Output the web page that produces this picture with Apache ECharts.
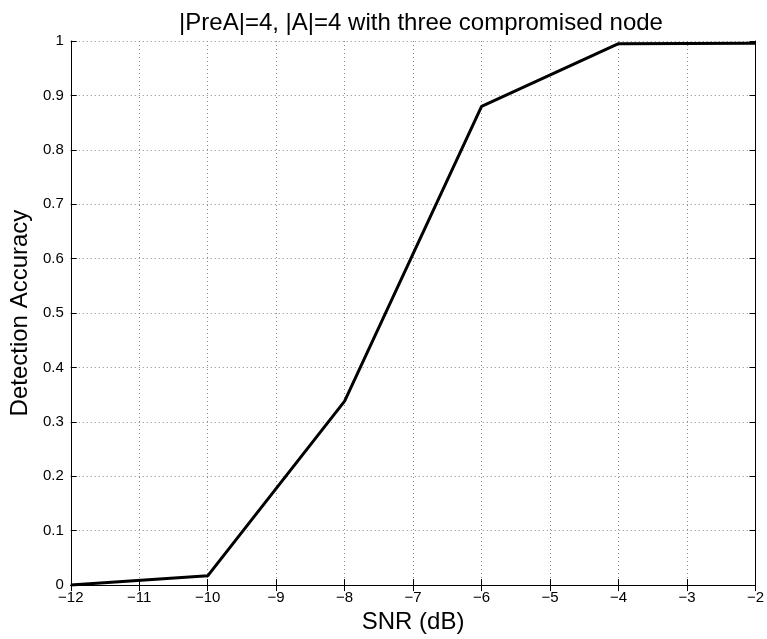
<!DOCTYPE html>
<html><head><meta charset="utf-8">
<script src="https://cdn.jsdelivr.net/npm/echarts@6/dist/echarts.min.js"></script>
<style>html,body{margin:0;padding:0;background:#fff}#c{width:767px;height:639px}</style>
</head><body><div id="c"></div>
<script>
const snr = [-12, -10, -8, -6, -4, -2];
const accuracy = [0.0, 0.017, 0.338, 0.880, 0.995, 0.996];
const titleText = '|PreA|=4, |A|=4 with three compromised node';
const xName = 'SNR (dB)';
const yName = 'Detection Accuracy';

const font = 'Liberation Sans, Arial, Helvetica, sans-serif';
const minus = v => String(v).replace('-', '\u2212');
const chart = echarts.init(document.getElementById('c'));
const gridLine = {show: true, lineStyle: {color: '#888', type: [1, 3], width: 1}};
const axLine = {show: true, lineStyle: {color: '#000', width: 1}};
chart.setOption({
  animation: false,
  title: {text: titleText, left: 416, textAlign: 'center', top: 6,
    textStyle: {fontFamily: font, fontSize: 24, fontWeight: 'normal', color: '#000'}},
  grid: {left: 70, right: 5, top: 41, bottom: 52, containLabel: false},
  xAxis: [{
    type: 'value', min: -12, max: -2, interval: 1,
    name: xName, nameLocation: 'middle', nameGap: 22,
    nameTextStyle: {fontFamily: font, fontSize: 24, color: '#000'},
    axisLine: axLine, axisTick: {show: true, inside: true, length: 6, lineStyle: {color: '#000'}},
    axisLabel: {formatter: minus, fontFamily: font, fontSize: 15, color: '#000', margin: 5},
    splitLine: gridLine
  }, {
    type: 'value', position: 'top', min: -12, max: -2, interval: 1,
    axisLine: axLine, axisTick: {show: true, inside: true, length: 6, lineStyle: {color: '#000'}},
    axisLabel: {show: false}, splitLine: {show: false}
  }],
  yAxis: [{
    type: 'value', min: 0, max: 1, interval: 0.1,
    name: yName, nameLocation: 'middle', nameGap: 36,
    nameTextStyle: {fontFamily: font, fontSize: 24, color: '#000'},
    axisLine: axLine, axisTick: {show: true, inside: true, length: 6, lineStyle: {color: '#000'}},
    axisLabel: {formatter: v => String(Math.round(v * 10) / 10), fontFamily: font, fontSize: 15, color: '#000', margin: 7},
    splitLine: gridLine
  }, {
    type: 'value', position: 'right', min: 0, max: 1, interval: 0.1,
    axisLine: axLine, axisTick: {show: true, inside: true, length: 6, lineStyle: {color: '#000'}},
    axisLabel: {show: false}, splitLine: {show: false}
  }],
  series: [{
    type: 'line', data: snr.map((x, i) => [x, accuracy[i]]),
    showSymbol: false, lineStyle: {color: '#000', width: 3}, clip: false
  }]
});
</script></body></html>
